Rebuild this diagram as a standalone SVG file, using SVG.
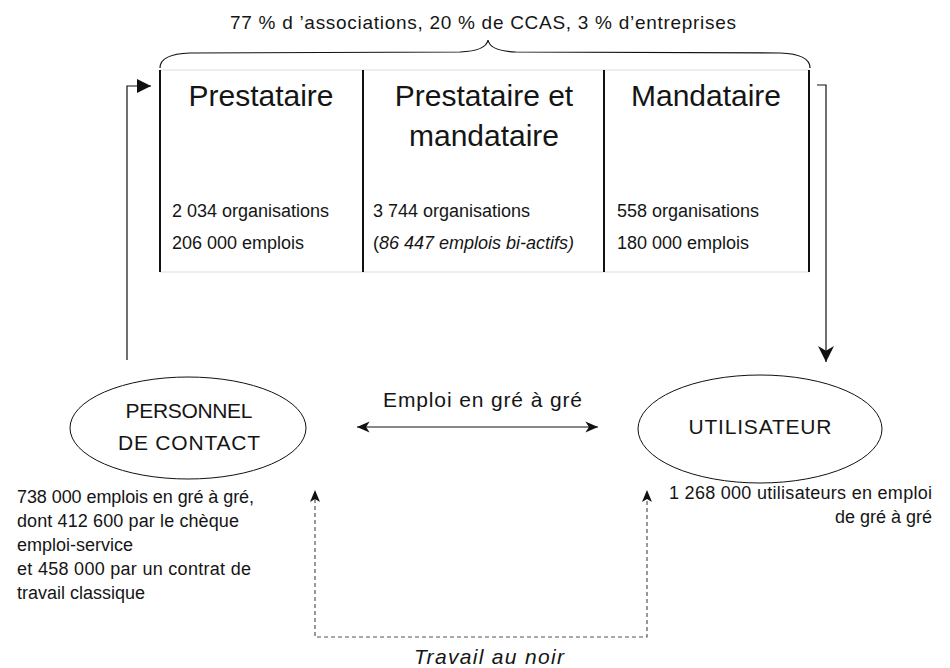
<svg xmlns="http://www.w3.org/2000/svg" width="950" height="668" viewBox="0 0 950 668">
<style>
text{font-family:"Liberation Sans",Arial,sans-serif;fill:#151515}
.h{font-size:30px;text-anchor:middle}
.d{font-size:18px}
.n{font-size:21px;text-anchor:middle}
.it{font-style:italic}
.ln{fill:none;stroke:#111;stroke-width:1.2}
.dash{fill:none;stroke:#555;stroke-width:1.2;stroke-dasharray:4,3}
.vb{stroke:#111;stroke-width:2}
.gb{stroke:#ddd;stroke-width:1}
.el{fill:none;stroke:#111;stroke-width:1}
</style>
<defs>
<marker id="tri" viewBox="0 0 10 10" refX="10" refY="5" markerWidth="14" markerHeight="14" markerUnits="userSpaceOnUse" orient="auto">
<path d="M0,0 L10,5 L0,10 Z" fill="#111"/>
</marker>
<marker id="stealth" viewBox="0 0 10 10" refX="10" refY="5" markerWidth="16" markerHeight="16" markerUnits="userSpaceOnUse" orient="auto">
<path d="M0,0 L10,5 L0,10 L3,5 Z" fill="#111"/>
</marker>
<marker id="open" viewBox="0 0 10 10" refX="10" refY="5" markerWidth="14" markerHeight="14" markerUnits="userSpaceOnUse" orient="auto">
<path d="M1,1 L10,5 L1,9 L3.5,5 Z" fill="#111"/>
</marker>
<marker id="openS" viewBox="0 0 10 10" refX="0" refY="5" markerWidth="14" markerHeight="14" markerUnits="userSpaceOnUse" orient="auto">
<path d="M9,1 L0,5 L9,9 L6.5,5 Z" fill="#111"/>
</marker>
</defs>

<g id="brace">
<text x="230" y="29" style="font-size:19px" textLength="506" lengthAdjust="spacing">77 % d ’associations, 20 % de CCAS, 3 % d’entreprises</text>
<path class="ln" d="M160,68 Q160,54 190,53 L460,52 Q486,51 488,40 Q490,51 516,52 L780,53 Q810,54 810,68"/>
</g>

<g id="table">
<line class="gb" x1="160" y1="70" x2="809" y2="70"/>
<line class="gb" x1="160" y1="272" x2="809" y2="272"/>
<line class="vb" x1="160" y1="70" x2="160" y2="272"/>
<line class="vb" x1="363" y1="70" x2="363" y2="272"/>
<line class="vb" x1="604" y1="70" x2="604" y2="272"/>
<line class="vb" x1="809" y1="70" x2="809" y2="272"/>
</g>

<g id="prestataire">
<text class="h" x="261" y="106">Prestataire</text>
<text class="d" x="172" y="217">2 034 organisations</text>
<text class="d" x="172" y="249">206 000 emplois</text>
</g>

<g id="prestataire-mandataire">
<text class="h" x="484" y="106">Prestataire et</text>
<text class="h" x="484" y="146">mandataire</text>
<text class="d" x="373" y="217">3 744 organisations</text>
<text class="d" x="373" y="249">(<tspan class="it">86 447 emplois bi-actifs)</tspan></text>
</g>

<g id="mandataire">
<text class="h" x="706" y="106">Mandataire</text>
<text class="d" x="617" y="217">558 organisations</text>
<text class="d" x="617" y="249">180 000 emplois</text>
</g>

<g id="personnel">
<ellipse class="el" cx="188" cy="428" rx="118" ry="51"/>
<text class="n" x="189" y="418" textLength="127" lengthAdjust="spacing">PERSONNEL</text>
<text class="n" x="189" y="450" textLength="142" lengthAdjust="spacing">DE CONTACT</text>
<text class="d" x="17" y="503" textLength="237" lengthAdjust="spacing">738 000 emplois en gré à gré,</text>
<text class="d" x="17" y="527" textLength="222" lengthAdjust="spacing">dont 412 600 par le chèque</text>
<text class="d" x="17" y="551">emploi-service</text>
<text class="d" x="17" y="575" textLength="234" lengthAdjust="spacing">et 458 000 par un contrat de</text>
<text class="d" x="17" y="599">travail classique</text>
</g>

<g id="utilisateur">
<ellipse class="el" cx="760" cy="429" rx="122" ry="54"/>
<text class="n" x="760" y="434" textLength="143" lengthAdjust="spacing">UTILISATEUR</text>
<text class="d" x="932" y="499" text-anchor="end" textLength="263" lengthAdjust="spacing">1 268 000 utilisateurs en emploi</text>
<text class="d" x="932" y="523" text-anchor="end">de gré à gré</text>
</g>

<g id="connectors">
<path class="ln" d="M127,360 L127,86 L151,86" marker-end="url(#tri)"/>
<path class="ln" d="M817,85 L826,85 L826,362" marker-end="url(#stealth)"/>
<path class="ln" d="M357,427 L598,427" marker-start="url(#openS)" marker-end="url(#open)"/>
<text x="383" y="407" style="font-size:21px" textLength="199" lengthAdjust="spacing">Emploi en gré à gré</text>
<path class="dash" d="M315,492 L315,637 L647,637 L647,492"/>
<path d="M315,490 L310,502 L315,499 L320,502 Z" fill="#111"/>
<path d="M647,490 L642,502 L647,499 L652,502 Z" fill="#111"/>
<text class="it" x="414" y="664" style="font-size:21px" textLength="150" lengthAdjust="spacing">Travail au noir</text>
</g>
</svg>
